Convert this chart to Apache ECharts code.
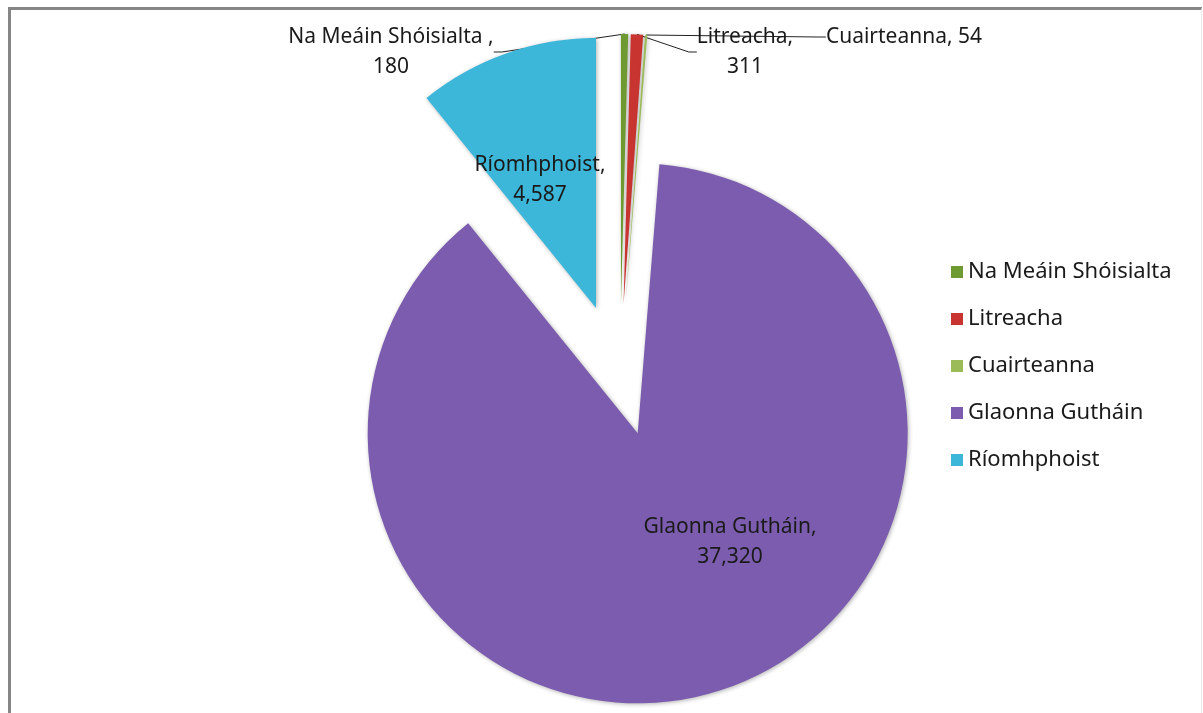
<!DOCTYPE html>
<html>
<head>
<meta charset="utf-8">
<script src="https://cdn.jsdelivr.net/npm/echarts@6/dist/echarts.min.js"></script>
<style>
  html, body { margin: 0; padding: 0; background: #fff; }
  #frame {
    position: absolute; left: 8px; top: 7px; width: 1194px; height: 720px;
    border-left: 3px solid #868686; border-top: 3px solid #868686; border-right: 1px solid #ececec;
    box-sizing: border-box;
  }
  #chart { position: absolute; left: 0; top: 0; width: 1203px; height: 713px; }
</style>
</head>
<body>
<div id="frame"></div>
<div id="chart"></div>
<script>
// --- data ---
const categories = ['Na Meáin Shóisialta', 'Litreacha', 'Cuairteanna', 'Glaonna Gutháin', 'Ríomhphoist'];
const values = [180, 311, 54, 37320, 4587];
const labelNames = ['Na Meáin Shóisialta ,', 'Litreacha,', 'Cuairteanna,', 'Glaonna Gutháin,', 'Ríomhphoist,'];

// --- styles ---
const colors = ['#6f9a32', '#c8342f', '#9bbb59', '#7c5cae', '#3cb6d9'];
const explodeOffsets = [72, 72, 72, 60, 72];
const labelPos = [[391, 52], [745, 52], [904, 37], [730, 542], [540, 180]];
const pieCenter = [620, 376];
const pieRadius = 270;
const fontFamily = '"Noto Sans", sans-serif';

const fmt = v => v.toLocaleString('en-US');
const total = values.reduce((a, b) => a + b, 0);

function labelText(i) {
  if (i === 2) return labelNames[i] + ' ' + fmt(values[i]);
  return labelNames[i] + '\n' + fmt(values[i]);
}

// exploded slice: each slice gets its own series, centre pushed out along its mid angle
let cum = 0;
const series = categories.map((cat, k) => {
  const mid = (cum + values[k] / 2) / total * 2 * Math.PI;
  cum += values[k];
  const off = explodeOffsets[k];
  const small = k < 3;
  return {
    type: 'pie',
    center: [pieCenter[0] + off * Math.sin(mid), pieCenter[1] - off * Math.cos(mid)],
    radius: [0, pieRadius],
    startAngle: 90,
    clockwise: true,
    avoidLabelOverlap: false,
    animation: false,
    silent: true,
    labelLayout: p => ({
      x: labelPos[p.dataIndex][0],
      y: labelPos[p.dataIndex][1],
      align: 'center',
      verticalAlign: 'middle'
    }),
    data: categories.map((name, i) => {
      const mine = i === k;
      return {
        name: name,
        value: values[i],
        itemStyle: mine
          ? { color: colors[i], shadowBlur: 4, shadowColor: 'rgba(0,0,0,0.3)', shadowOffsetX: 1, shadowOffsetY: 1 }
          : { color: 'rgba(0,0,0,0)', borderWidth: 0 },
        label: {
          show: mine,
          position: small ? 'outside' : 'inside',
          formatter: () => labelText(i),
          color: '#1a1a1a',
          fontFamily: fontFamily,
          fontSize: 21,
          lineHeight: 30,
          align: 'center'
        },
        labelLine: {
          show: mine && small,
          length: 8,
          length2: 8,
          lineStyle: { color: '#222', width: 1 }
        }
      };
    })
  };
});

const chart = echarts.init(document.getElementById('chart'));
chart.setOption({
  backgroundColor: 'transparent',
  animation: false,
  legend: {
    orient: 'vertical',
    left: 946,
    top: 255,
    icon: 'rect',
    itemWidth: 12,
    itemHeight: 12,
    itemGap: 23,
    selectedMode: false,
    textStyle: { fontFamily: fontFamily, fontSize: 22, lineHeight: 24, color: '#1a1a1a' },
    data: categories.map((name, i) => ({ name: name, itemStyle: { color: colors[i] } }))
  },
  series: series
});
</script>
</body>
</html>
